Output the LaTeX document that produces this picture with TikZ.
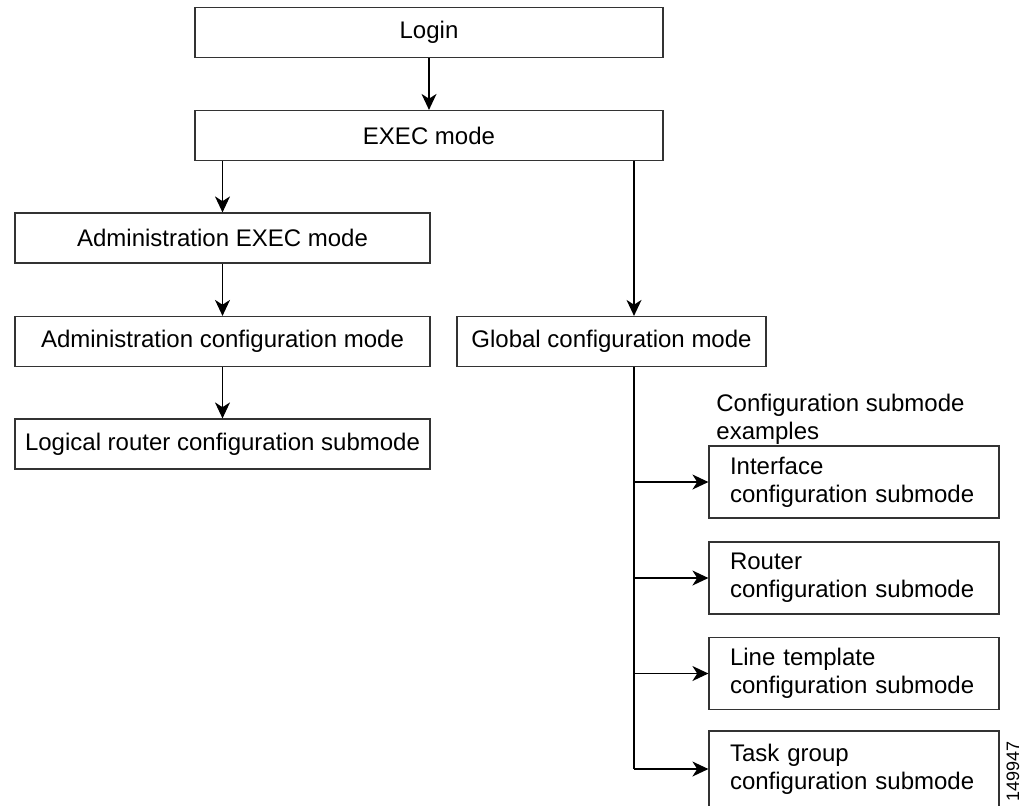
\documentclass[tikz,border=0pt]{standalone}
\usepackage{fontspec}
\setmainfont{Liberation Sans}
\usetikzlibrary{arrows.meta}
\begin{document}
\begin{tikzpicture}[x=0.5pt,y=-0.5pt,
 box/.style={draw=black!80, line width=0.6pt, rectangle, inner sep=0pt, font=\fontsize{12}{14}\selectfont, text=black},
 mainbox/.style={box, minimum height=25pt},
 subbox/.style={box, align=left, text width=124pt, inner xsep=10.5pt, minimum width=145pt, minimum height=36pt},
 arr/.style={line width=0.7pt, -{Stealth[length=8pt,width=7.5pt,inset=2.4pt]}},
 ln/.style={line width=0.7pt}]
\path[use as bounding box] (0,0) rectangle (1021,805);
\clip (0,0) rectangle (1021,805);
\node[mainbox, minimum width=234pt] (login) at (429,32.5) {Login};
\node[mainbox, minimum width=234pt] (exec) at (429,135.5) {EXEC mode};
\node[mainbox, minimum width=207.5pt] (adexec) at (222.5,238) {Administration EXEC mode};
\node[mainbox, minimum width=207.5pt] (adcfg) at (222.5,341.5) {Administration configuration mode};
\node[mainbox, minimum width=207.5pt] (logical) at (222.5,444) {Logical router configuration submode};
\node[mainbox, minimum width=154.5pt] (global) at (611.5,341.5) {Global configuration mode};
\node[font=\fontsize{12}{14}\selectfont, align=left, anchor=north west, inner sep=0pt] (lbl) at (716,394) {Configuration submode\\examples};
\node[subbox] (iface) at (854,482) {Interface\\configuration submode};
\node[subbox] (router) at (854,578) {Router\\configuration submode};
\node[subbox] (linet) at (854,673.5) {Line template\\configuration submode};
\node[subbox, minimum height=38pt] (task) at (854,769) {Task group\\configuration submode};
\node[rotate=90, font=\fontsize{9}{10}\selectfont, inner sep=0pt] (fig) at (1013,771) {149947};
\coordinate (trunk) at (634,0);
\draw[arr] (login.south) -- (exec.north);
\draw[arr] (adexec.north |- exec.south) -- (adexec.north);
\draw[arr] (adexec.south) -- (adcfg.north);
\draw[arr] (adcfg.south) -- (logical.north);
\draw[arr] (trunk |- exec.south) -- (trunk |- global.north);
\draw[ln] (trunk |- global.south) -- (trunk |- task.west);
\draw[arr] (trunk |- iface.west) -- (iface.west);
\draw[arr] (trunk |- router.west) -- (router.west);
\draw[arr] (trunk |- linet.west) -- (linet.west);
\draw[arr] (trunk |- task.west) -- (task.west);
\end{tikzpicture}
\end{document}
